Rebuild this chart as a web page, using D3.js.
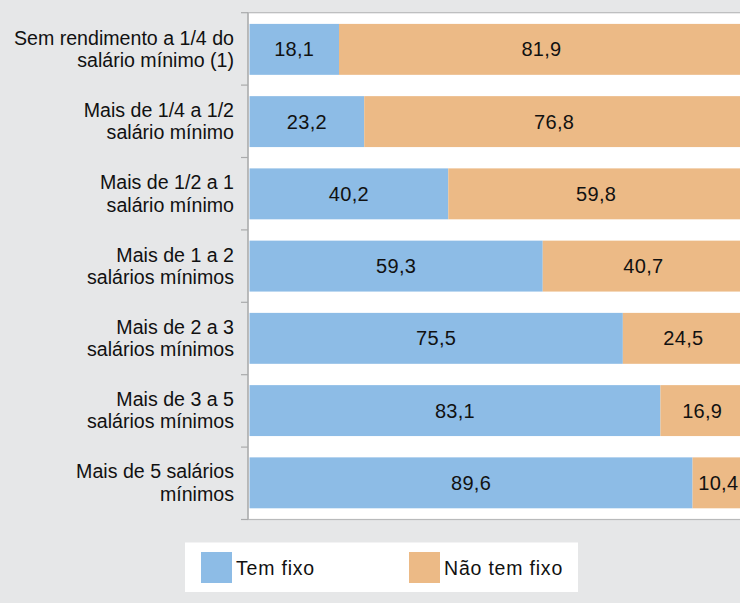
<!DOCTYPE html>
<html><head><meta charset="utf-8">
<script src="https://cdn.jsdelivr.net/npm/d3@7"></script>
<style>
html,body{margin:0;padding:0;background:#e6e7e8;overflow:hidden;}
svg{display:block;font-family:"Liberation Sans",Arial,sans-serif;}
</style></head><body>
<svg id="c" width="740" height="603"></svg>
<script>
const categories = [
  ["Sem rendimento a 1/4 do","salário mínimo (1)"],
  ["Mais de 1/4 a 1/2","salário mínimo"],
  ["Mais de 1/2 a 1","salário mínimo"],
  ["Mais de 1 a 2","salários mínimos"],
  ["Mais de 2 a 3","salários mínimos"],
  ["Mais de 3 a 5","salários mínimos"],
  ["Mais de 5 salários","mínimos"]
];
const temFixo = [18.1, 23.2, 40.2, 59.3, 75.5, 83.1, 89.6];
const naoTemFixo = [81.9, 76.8, 59.8, 40.7, 24.5, 16.9, 10.4];
const seriesNames = ["Tem fixo", "Não tem fixo"];
const colors = ["#8dbce6", "#ecba86"];

const svg = d3.select("#c");
const W = 740, H = 603;
svg.append("rect").attr("width", W).attr("height", H).attr("fill", "#e6e7e8");

const plotLeft = 248, plotTop = 12.7, plotBottom = 519.5;
const x = d3.scaleLinear().domain([0, 100]).range([249.5, 744]);
const y = d3.scaleBand().domain(d3.range(categories.length))
  .range([plotTop, plotBottom]).paddingInner(0.295).paddingOuter(0.155);

// plot area
svg.append("rect").attr("x", plotLeft).attr("y", plotTop)
  .attr("width", W - plotLeft + 10).attr("height", plotBottom - plotTop)
  .attr("fill", "#fff").attr("stroke", "#b9babb").attr("stroke-width", 1.2);

const rows = categories.map((c, i) => ({i, vals: [temFixo[i], naoTemFixo[i]]}));

const g = svg.append("g");
rows.forEach(r => {
  let acc = 0;
  r.vals.forEach((v, k) => {
    const x0 = x(acc), x1 = x(acc + v);
    g.append("rect").attr("x", x0).attr("y", y(r.i))
      .attr("width", x1 - x0).attr("height", y.bandwidth())
      .attr("fill", colors[k]);
    g.append("text").attr("x", (x0 + x1) / 2)
      .attr("y", y(r.i) + y.bandwidth() / 2 + 7)
      .attr("text-anchor", "middle").attr("font-size", 20)
      .attr("fill", "#111").attr("letter-spacing", 0.3)
      .text(d3.format(".1f")(v).replace(".", ","));
    acc += v;
  });
});

// left axis line and ticks at band boundaries
svg.append("line").attr("x1", plotLeft).attr("x2", plotLeft)
  .attr("y1", plotTop).attr("y2", plotBottom)
  .attr("stroke", "#a9aaab").attr("stroke-width", 1.2);
const step = y.step();
d3.range(categories.length + 1).forEach(k => {
  const yy = plotTop + k * (plotBottom - plotTop) / categories.length;
  svg.append("line").attr("x1", plotLeft - 7).attr("x2", plotLeft)
    .attr("y1", yy).attr("y2", yy)
    .attr("stroke", "#a9aaab").attr("stroke-width", 1.2);
});

// category labels
categories.forEach((lines, i) => {
  const cy = y(i) + y.bandwidth() / 2;
  const t = svg.append("text").attr("text-anchor", "end")
    .attr("font-size", 19.6).attr("fill", "#111");
  lines.forEach((ln, j) => {
    t.append("tspan").attr("x", 234)
      .attr("y", cy - 4.5 + j * 22.3).text(ln);
  });
});

// legend
svg.append("rect").attr("x", 185).attr("y", 542.5).attr("width", 393).attr("height", 49.5).attr("fill", "#fff");
const legX = [201, 409];
seriesNames.forEach((n, k) => {
  svg.append("rect").attr("x", legX[k]).attr("y", 552).attr("width", 31).attr("height", 31).attr("fill", colors[k]);
  svg.append("text").attr("x", legX[k] + 35).attr("y", 574.5)
    .attr("font-size", 19.5).attr("letter-spacing", 0.8).attr("fill", "#111").text(n);
});
</script>
</body></html>
